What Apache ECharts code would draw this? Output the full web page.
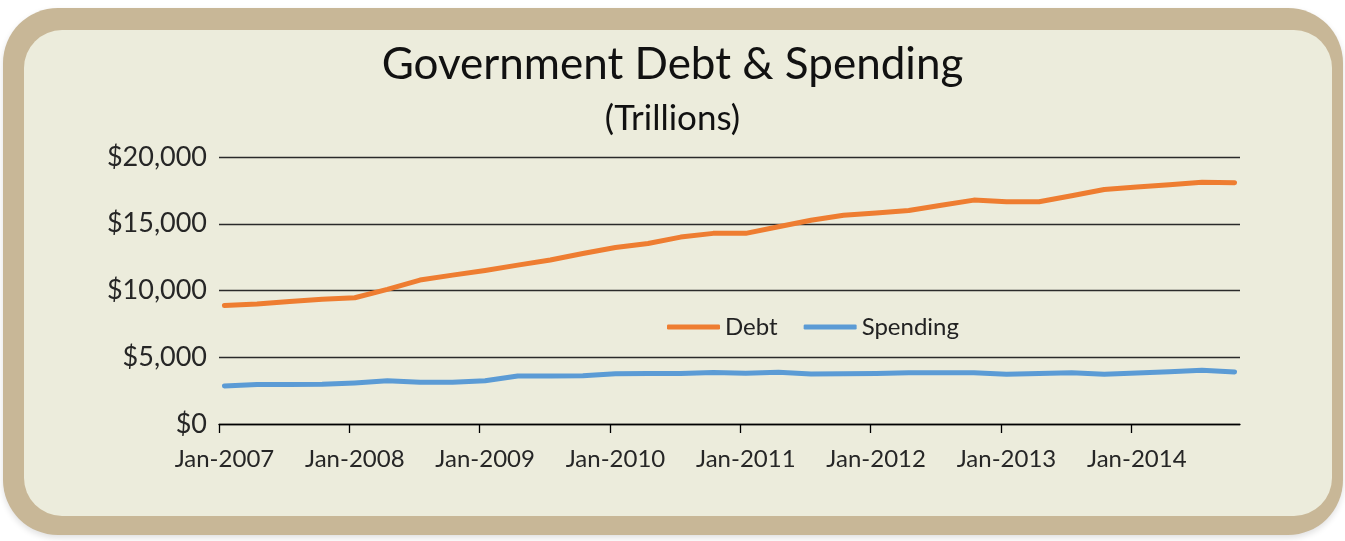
<!DOCTYPE html>
<html><head><meta charset="utf-8">
<script src="https://cdn.jsdelivr.net/npm/echarts@6/dist/echarts.min.js"></script>
<style>html,body{margin:0;padding:0;background:#fff}#c{width:1345px;height:541px}</style>
</head><body><div id="c"></div>
<script>
// Month / year names used to build the monthly axis
const monthNames = ['Jan','Feb','Mar','Apr','May','Jun','Jul','Aug','Sep','Oct','Nov','Dec'];
const years = [2007, 2008, 2009, 2010, 2011, 2012, 2013, 2014];
const lastMonthIndex2014 = 9; // axis runs through Oct-2014
const xTickLabels = ['Jan-2007','Jan-2008','Jan-2009','Jan-2010','Jan-2011','Jan-2012','Jan-2013','Jan-2014'];
// Quarterly readings (Jan, Apr, Jul, Oct of each year)
const quarterLabels = [
  'Jan-2007','Apr-2007','Jul-2007','Oct-2007','Jan-2008','Apr-2008','Jul-2008','Oct-2008',
  'Jan-2009','Apr-2009','Jul-2009','Oct-2009','Jan-2010','Apr-2010','Jul-2010','Oct-2010',
  'Jan-2011','Apr-2011','Jul-2011','Oct-2011','Jan-2012','Apr-2012','Jul-2012','Oct-2012',
  'Jan-2013','Apr-2013','Jul-2013','Oct-2013','Jan-2014','Apr-2014','Jul-2014','Oct-2014'
];
const debt = [8870, 8980, 9170, 9350, 9460, 10090, 10780, 11150, 11500, 11900, 12290, 12770,
  13220, 13520, 14000, 14280, 14280, 14770, 15260, 15640, 15810, 15990, 16380, 16770,
  16650, 16650, 17100, 17570, 17750, 17920, 18100, 18080];
const spending = [2850, 2950, 2960, 2970, 3080, 3240, 3120, 3120, 3240, 3590, 3600, 3620,
  3770, 3780, 3790, 3860, 3800, 3870, 3750, 3760, 3790, 3840, 3840, 3840,
  3720, 3790, 3840, 3720, 3820, 3920, 4020, 3900];
const yTicks = [0, 5000, 10000, 15000, 20000];

// build monthly slots (each month is one unit on the x axis; points sit mid-month)
const months = [];
years.forEach(y => {
  monthNames.forEach((m, i) => {
    if (y === 2014 && i > lastMonthIndex2014) return;
    months.push(m + '-' + y);
  });
});
const monthPos = label => months.indexOf(label);
const toPairs = vals => quarterLabels.map((q, k) => [monthPos(q) + 0.5, vals[k]]);
const tickValues = xTickLabels.map(monthPos);
const labelValues = xTickLabels.map(l => monthPos(l) + 0.5);

const FONT = 'Lato';
const chart = echarts.init(document.getElementById('c'), null, {renderer: 'canvas'});
chart.setOption({
  backgroundColor: '#ffffff',
  animation: false,
  graphic: {
    elements: [
      {type: 'rect', z: -20, silent: true,
        shape: {x: 3, y: 8, width: 1340, height: 527, r: 55},
        style: {fill: '#C8B797', shadowColor: 'rgba(0,0,0,0.12)', shadowBlur: 6, shadowOffsetY: 3}},
      {type: 'rect', z: -19, silent: true,
        shape: {x: 24, y: 30, width: 1308, height: 486, r: 38},
        style: {fill: '#ECECDC'}}
    ]
  },
  title: [
    {text: 'Government Debt & Spending', left: 'center', top: 38,
      textStyle: {fontFamily: FONT, fontSize: 44, fontWeight: 'normal', color: '#111'}},
    {text: '(Trillions)', left: 'center', top: 96,
      textStyle: {fontFamily: FONT, fontSize: 35, fontWeight: 'normal', color: '#111'}}
  ],
  legend: {
    left: 667, top: 315, padding: 0,
    itemWidth: 53, itemHeight: 5, itemGap: 26, icon: 'roundRect',
    textStyle: {fontFamily: FONT, fontSize: 24, color: '#222'},
    data: ['Debt', 'Spending']
  },
  grid: {left: 219, right: 105, top: 157, bottom: 117, containLabel: false},
  xAxis: {
    type: 'value', min: 0, max: months.length,
    splitLine: {show: false},
    axisLine: {show: true, onZero: false, lineStyle: {color: '#000', width: 1.3}},
    axisTick: {show: true, customValues: tickValues, length: 9, inside: false,
      lineStyle: {color: '#000', width: 1.3}},
    axisLabel: {customValues: labelValues, margin: 23, fontFamily: FONT, fontSize: 24, color: '#262626',
      showMinLabel: true, showMaxLabel: true,
      formatter: v => months[Math.floor(v)]}
  },
  yAxis: {
    type: 'value', min: 0, max: 20000, interval: 5000,
    axisLine: {show: false}, axisTick: {show: false},
    splitLine: {lineStyle: {color: '#2a2a2a', width: 1.3}},
    axisLabel: {margin: 12, fontFamily: FONT, fontSize: 27, color: '#262626',
      formatter: v => yTicks.includes(v) ? '$' + v.toLocaleString('en-US') : ''}
  },
  series: [
    {name: 'Debt', type: 'line', data: toPairs(debt), showSymbol: false,
      symbol: 'none', lineStyle: {color: '#EE7D31', width: 5, cap: 'round', join: 'round'},
      itemStyle: {color: '#EE7D31'}},
    {name: 'Spending', type: 'line', data: toPairs(spending), showSymbol: false,
      symbol: 'none', lineStyle: {color: '#5B9BD5', width: 5, cap: 'round', join: 'round'},
      itemStyle: {color: '#5B9BD5'}}
  ]
});
</script>
</body></html>
